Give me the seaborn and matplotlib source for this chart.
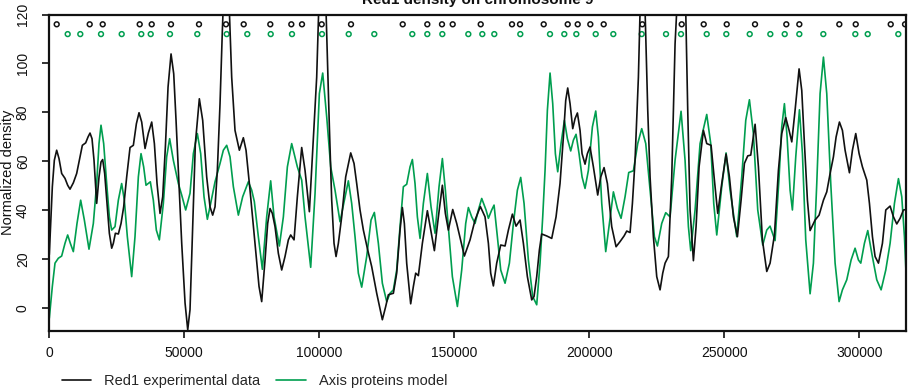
import matplotlib
matplotlib.use("Agg")
import matplotlib.pyplot as plt
from matplotlib.lines import Line2D
import seaborn as sns
import pandas as pd

# ---- data (position in bp, normalized density) ----
red1_pos = [0, 1124, 1865, 2730, 3594, 4582, 5817, 6805, 7670, 8905, 10140, 11375, 12240,
            13475, 14340, 15080, 15820, 16560, 17550, 18414, 19150, 19770, 20510, 21380,
            22240, 23110, 23720, 24470, 25580, 26570, 27550, 28660, 29900, 31130, 32250,
            33230, 34220, 35460, 36690, 37930, 38920, 39900, 41010, 42000, 42990, 43980,
            45090, 46080, 46940, 47810, 49040, 50280, 51270, 52115, 53100, 54090, 55570,
            56810, 58290, 59520, 60510, 61380, 62240, 63230, 64090, 65330, 66685, 67550,
            68780, 70390, 71870, 72860, 74340, 76190, 77670, 78660, 79900, 80880, 81750,
            82610, 83600, 84830, 86070, 87300, 88540, 89400, 90640, 91870, 93480, 94710,
            96320, 97550, 99030, 99770, 101000, 102490, 103730, 104590, 105450, 106200,
            107060, 108290, 109770, 111630, 112860, 113850, 115080, 116320, 117920, 119400,
            121260, 123350, 124590, 125580, 127430, 128660, 129900, 130760, 131500, 132370,
            133840, 134840, 135700, 136690, 138170, 140020, 141260, 142620, 144100, 145580,
            146690, 147800, 149410, 150890, 153730, 155830, 157680, 159650, 161380, 162620,
            163480, 164470, 165700, 167190, 168790, 170030, 171510, 172870, 174350, 175580,
            177060, 178670, 179530, 180520, 181510, 182370, 184220, 186080, 187680, 189150,
            190400, 191260, 192000, 192870, 193860, 194720, 195590, 196570, 197310, 198420,
            199290, 200270, 201510, 203110, 204230, 205460, 206700, 208300, 209910, 211390,
            212870, 213860, 215090, 215960, 216940, 218180, 218800, 219660, 220650, 221640,
            222500, 223730, 224970, 226200, 227190, 228060, 229290, 230530, 231760, 232380,
            234000, 235710, 236450, 237320, 238550, 239540, 240650, 242260, 243490, 245100,
            246330, 247560, 249050, 250650, 251890, 253370, 254850, 256210, 257440, 258680,
            259790, 261400, 262630, 264110, 265720, 266950, 268560, 270040, 271270, 272760,
            273990, 274980, 276210, 277690, 278680, 279670, 280780, 281770, 283620, 285100,
            286710, 287940, 289180, 290410, 291400, 292630, 293740, 294730, 296340, 297450,
            298680, 299920, 301150, 302760, 303750, 304860, 305840, 307080, 308560, 309800,
            311400, 312640, 313870, 315110, 316340, 317400]
red1_val = [22, 49.7, 60.5, 64.6, 61.2, 55.1, 53.1, 50.3, 48.7, 51.3, 55.1, 61.9, 66.6,
            67.6, 70.0, 71.6, 69.3, 60.5, 42.9, 53.7, 59.8, 60.8, 55.1, 42.9,
            30.7, 24.6, 26.6, 30.7, 30.4, 34.7, 41.5, 53.7, 65.7, 66.6, 75.4,
            79.9, 76.1, 65.3, 71.6, 76.1, 67.3, 51.0, 38.8, 45.6, 65.9, 90.4,
            103.9, 95.8, 76.8, 56.4, 26.6, 2.2, -8.7, -0.5, 33.4, 67.3, 85.6,
            76.8, 53.7, 41.5, 38.1, 41.5, 56.4, 83.6, 113.4, 150, 121.6, 94.4,
            72.7, 64.6, 69.7, 64.6, 48.3, 26.6, 9.0, 2.8, 19.8, 34.7, 40.8,
            38.8, 33.4, 22.5, 15.7, 21.2, 28, 30, 28, 45.6, 65.7, 56.4,
            39.5, 64.6, 94.4, 121.6, 145, 121.6, 74.1, 44.2, 26.6, 21.2,
            26.6, 37.4, 53.7, 63.5, 59.2, 51, 40.2, 32, 23.9, 17.1,
            6.2, -4.6, 0.8, 5.6, 6.2, 14.4, 32, 41.2, 34.7, 18.4,
            1.9, 9.0, 14.4, 13.4, 26.6, 39.9, 32, 23.6, 37.4, 50.3,
            38.8, 32, 40.4, 34.7, 21.4, 28, 36.1, 41.6, 37.4, 26.6,
            14.4, 9.2, 18.5, 25.9, 25.5, 32, 38.5, 33.6, 36.1, 26.6,
            13, 3.5, 4.9, 13, 23.9, 30.4, 29.6, 28.6, 37.4, 51,
            70, 84.9, 90, 83.6, 73.4, 77.5, 79.8, 72.7, 63.2, 58.9,
            63.2, 65.9, 57.8, 46.3, 53.7, 57.5, 51, 33.4, 25.2, 27.3,
            29.6, 31.6, 31, 42.9, 60.5, 94.4, 121.6, 145, 121.6, 80.9,
            53.7, 29.3, 13, 7.6, 14.4, 18.5, 21.2, 53.7, 108, 121.6,
            170, 121.6, 80.9, 40.2, 19.5, 33.4, 57.8, 72.7, 67.3, 66.6,
            52.4, 38.8, 51, 63, 53.7, 37.4, 29.3, 44.2, 59.2, 62.3,
            62.6, 75.2, 57.8, 28, 15.1, 18.5, 30, 56.4, 71.4, 77.9,
            72.7, 68, 80.9, 97.8, 89, 67.3, 44.2, 31.8, 36.1, 38.1,
            44.2, 47.6, 55.1, 61.9, 70, 76.1, 72.7, 64.6, 55.4, 64.6,
            71.4, 63.2, 57.8, 52.4, 42.9, 29.3, 21.2, 18.5, 26.6, 40.2,
            41.8, 37.4, 34.5, 36.8, 40.2, 40.4]

axis_pos = [0, 1123, 2111, 3346, 4580, 5815, 6803, 7790, 8900, 10260, 11620, 12980, 14700,
            16310, 17545, 18410, 19150, 20140, 21250, 22240, 23100, 24340, 25570, 26800,
            27790, 28900, 30510, 31740, 32980, 33970, 34950, 35820, 37420, 38530, 39640,
            40760, 42240, 43470, 44580, 45940, 47800, 49030, 50510, 52115, 53350, 54830,
            56070, 57300, 58540, 59770, 61380, 63230, 64460, 65700, 66930, 68170, 70020,
            71620, 73720, 74960, 75940, 77420, 78910, 80510, 81990, 83230, 85200, 86690,
            88170, 89770, 91870, 93480, 94710, 96810, 98420, 100020, 101260, 102740, 104220,
            105820, 107670, 109280, 110760, 111990, 113230, 114460, 115700, 117550, 119160,
            120390, 121870, 123350, 124960, 126190, 127430, 128660, 129900, 131130, 132370,
            133600, 134470, 135450, 136320, 137310, 138540, 140020, 141380, 142860, 144340,
            145580, 146690, 147800, 149280, 151140, 152740, 154220, 155210, 156440, 157680,
            158910, 160150, 161750, 162620, 163850, 164720, 165950, 167190, 168790, 170400,
            171880, 173360, 174590, 175830, 177430, 179040, 180520, 181750, 182740, 183610,
            184470, 185460, 186450, 187430, 188300, 189530, 190770, 191880, 193110, 194100,
            195090, 196200, 197310, 198420, 199660, 201140, 202380, 203360, 204600, 206080,
            207440, 208920, 210400, 211760, 213240, 214600, 216330, 217930, 219410, 220900,
            222500, 224110, 225220, 226820, 228300, 229910, 231760, 233980, 235460, 236700,
            237560, 239170, 241020, 243490, 244970, 246080, 247200, 249050, 250650, 252130,
            254600, 256450, 257940, 259300, 260760, 262380, 264230, 265710, 266940, 268800,
            270290, 271270, 272260, 273250, 274360, 275220, 276460, 277820, 278930, 280160,
            281770, 283000, 284240, 285470, 286710, 287940, 289420, 291030, 292510, 293740,
            295350, 296960, 298430, 299670, 300540, 301890, 303130, 304610, 306460, 308070,
            309800, 311400, 313010, 314490, 315720, 316710, 317400]
axis_val = [-4, 9.0, 18.5, 20.5, 21.4, 26.6, 30.0, 26.6, 23.2, 34.7, 44.2, 36.1, 24.2,
            34.7, 51.0, 67.3, 74.8, 67.3, 51.0, 37.4, 32.0, 33.4, 44.2, 51.0,
            44.2, 29.3, 13.0, 29.3, 53.7, 63.2, 57.8, 50.3, 51.7, 44.2, 32.0,
            28.0, 42.9, 61.9, 69.3, 60.5, 51.0, 46.3, 40.2, 47, 63.2, 71.4,
            63.2, 45.6, 36.4, 42.9, 51.7, 59.2, 64.6, 66.6, 61.9, 49.7, 38.1,
            45.6, 51.7, 48.3, 43.6, 29.3, 16.0, 37.4, 52.1, 37.4, 25.5, 37.4,
            57.8, 67.3, 57.8, 52.4, 37.4, 16.8, 46.9, 87.7, 96.1, 78.2, 57.8,
            48.3, 35.4, 44.2, 52.1, 42.9, 29.3, 14.4, 8.7, 21.2, 36.1,
            39.2, 26.6, 10.3, 2.8, 6.2, 7.6, 15.7, 33.4, 49.7, 50.7,
            57.8, 60.8, 51, 37.4, 28.6, 42.9, 55.1, 41.5, 30.7, 49.7,
            61.2, 48.3, 33.4, 13.0, 0.8, 15.7, 34.7, 41.2, 37.4, 34.7,
            40.2, 44.9, 40.2, 36.8, 40.2, 42.2, 29.3, 15.7, 10.3, 18.5,
            34.7, 48.3, 53.5, 42.9, 19.8, 4.9, 1.5, 18.5, 37.4, 56.4,
            80.9, 96.1, 83.6, 63.2, 55.8, 67.3, 76.8, 69.3, 64.3, 68.7,
            71.1, 63.2, 53.7, 49, 56.4, 74.1, 80.6, 70, 42.9, 23.2,
            34.7, 47.6, 40.8, 36.8, 45.6, 55.5, 56.2, 67.3, 73.4, 67.3,
            48.3, 29.3, 25.5, 34.7, 39.1, 37.4, 60.5, 80.5, 60.5, 33.4,
            23.6, 40.2, 67.3, 79.2, 67.3, 42.9, 30, 49.7, 63.5, 48.3,
            29.3, 53.7, 76.8, 85.2, 71.4, 40.2, 25.9, 32, 33.6, 27.7,
            53.7, 74.1, 83.6, 70, 48.3, 40.2, 61.9, 81.1, 63.2, 28,
            6, 18.5, 51, 87.7, 102.6, 87.7, 51, 18.5, 2.8, 7.6,
            11.7, 19.8, 24.6, 19.8, 18.5, 26.6, 31.8, 22.5, 11.7, 7.6,
            15.7, 26.6, 42.9, 53, 45.6, 29.3, 12]

red1_sites = [2740, 14960, 19780, 33480, 37930, 45070, 55440, 65440, 72000, 81850, 89630,
              93590, 100890, 111740, 130890, 140000, 145440, 149400, 159780, 171370, 174330,
              183110, 192000, 195700, 200370, 205330, 219630, 234220, 242370, 250890, 261370,
              272960, 277780, 292590, 298670, 311630, 316930]
axis_sites = [6810, 11480, 19150, 26810, 34070, 37560, 44700, 54810, 65700, 73330, 82000,
              89890, 101000, 110890, 120370, 134440, 140000, 145560, 155190, 160370, 164810,
              174440, 185440, 190740, 195190, 202370, 208890, 219410, 228410, 233960, 243480,
              250740, 259410, 267040, 272370, 277780, 286670, 298520, 303110, 314440]
red1_site_level = 116
axis_site_level = 112

x_ticks = [0, 50000, 100000, 150000, 200000, 250000, 300000]
y_ticks = [0, 20, 40, 60, 80, 100, 120]

title = "Red1 density on chromosome 9"
ylabel = "Normalized density"
series_names = ["Red1 experimental data", "Axis proteins model"]

# ---- styling ----
BLACK = "#111111"
GREEN = "#009E4F"

sns.set_theme(style="white")
plt.rcParams["font.family"] = ["Liberation Sans", "DejaVu Sans"]

fig = plt.figure(figsize=(9.08, 3.89), dpi=100)
W, H = 908, 389
ax = fig.add_axes([49.3 / W, 1 - 331 / H, (906.3 - 49.3) / W, (331 - 14.5) / H])

red1_df = pd.DataFrame({"pos": red1_pos, "val": red1_val})
axis_df = pd.DataFrame({"pos": axis_pos, "val": axis_val})

sns.lineplot(data=axis_df, x="pos", y="val", ax=ax, color=GREEN, lw=1.2,
             estimator=None, sort=False, solid_joinstyle="round")
sns.lineplot(data=red1_df, x="pos", y="val", ax=ax, color=BLACK, lw=1.2,
             estimator=None, sort=False, solid_joinstyle="round")

for sites, level, col in [(red1_sites, red1_site_level, BLACK),
                          (axis_sites, axis_site_level, GREEN)]:
    sns.scatterplot(x=sites, y=[level] * len(sites), ax=ax, s=12, marker="o")
    coll = ax.collections[-1]
    coll.set_facecolor("none")
    coll.set_edgecolor(col)
    coll.set_linewidth(1.1)

ax.set_xlim(0, 317400)
ax.set_ylim(-9.2, 120)
ax.set_xticks(x_ticks)
ax.set_xticklabels([str(v) for v in x_ticks])
ax.set_yticks(y_ticks)
ax.set_yticklabels([str(v) for v in y_ticks], rotation=90, va="center")
ax.set_xlabel("")
ax.set_ylabel(ylabel, fontsize=10.5, color="#111111")
ax.yaxis.label.set_rotation_mode("default")
ax.yaxis.label.set_va("center")
ax.yaxis.label.set_ha("center")
ax.yaxis.set_label_coords(-(49.3 - 8) / 857, 0.5)

ax.tick_params(axis="both", which="major", direction="out", length=5, width=1.2,
               color=BLACK, labelsize=10, labelcolor="#111111", pad=6)
ax.tick_params(axis="x", bottom=True)
ax.tick_params(axis="y", left=True, pad=9)
for sp in ax.spines.values():
    sp.set_visible(True)
    sp.set_color(BLACK)
    sp.set_linewidth(1.6)
ax.grid(False)
ax.set_facecolor("white")

fig.text(477.5 / W, 1 - 4 / H, title, ha="center", va="baseline",
         fontsize=11, fontweight="bold", color="#111111")

handles = [Line2D([], [], color=BLACK, lw=1.2), Line2D([], [], color=GREEN, lw=1.2)]
fig.legend(handles, series_names, ncol=2, loc="center left",
           bbox_to_anchor=(62 / W, 1 - 381 / H), frameon=False, fontsize=10.5,
           handlelength=2.0, handletextpad=0.9, columnspacing=1.1,
           borderaxespad=0, borderpad=0)

fig.savefig("out.png", dpi=100, facecolor="white")
